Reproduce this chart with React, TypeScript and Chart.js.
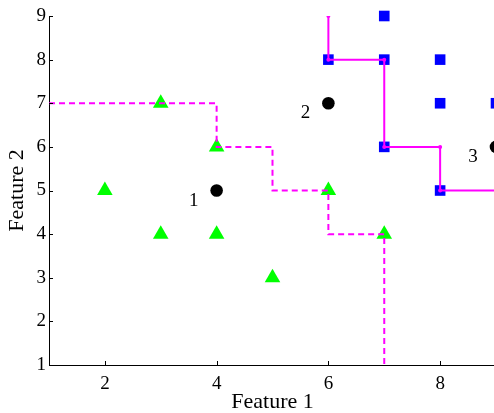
import { useEffect, useRef } from "react";
import { Chart, registerables } from "chart.js";

Chart.register(...registerables);

// Class A (green triangles)
const classAX = [2, 3, 3, 4, 4, 5, 6, 7];
const classAY = [5, 7, 4, 6, 4, 3, 5, 4];
// Class B (blue squares)
const classBX = [6, 7, 7, 7, 8, 8, 8, 9];
const classBY = [8, 9, 8, 6, 8, 7, 5, 7];
// Query points (black circles)
const queryX = [4, 6, 9];
const queryY = [5, 7, 6];
const queryLabels = ["1", "2", "3"];
// Dashed boundary
const dashedX = [1, 4, 4, 5, 5, 6, 6, 7, 7];
const dashedY = [7, 7, 6, 6, 5, 5, 4, 4, 1];
// Solid boundary
const solidX = [6, 6, 7, 7, 8, 8, 9];
const solidY = [9, 8, 8, 6, 6, 5, 5];

const xTicks = [2, 4, 6, 8];
const yTicks = [1, 2, 3, 4, 5, 6, 7, 8, 9];
const xTitle = "Feature 1";
const yTitle = "Feature 2";

const SERIF = "'Liberation Serif', 'Times New Roman', serif";

const zip = (xs: number[], ys: number[]) => xs.map((x, i) => ({ x, y: ys[i] }));

const inwardTicks = {
  id: "inwardTicks",
  afterDraw(chart: any) {
    const { ctx, chartArea, scales } = chart;
    ctx.save();
    ctx.strokeStyle = "#000";
    ctx.lineWidth = 1;
    const len = 4;
    scales.x.ticks.forEach((t: any) => {
      const px = Math.round(scales.x.getPixelForValue(t.value)) + 0.5;
      ctx.beginPath();
      ctx.moveTo(px, chartArea.bottom);
      ctx.lineTo(px, chartArea.bottom - len);
      ctx.stroke();
    });
    scales.y.ticks.forEach((t: any) => {
      const py = Math.round(scales.y.getPixelForValue(t.value)) + 0.5;
      ctx.beginPath();
      ctx.moveTo(chartArea.left, py);
      ctx.lineTo(chartArea.left + len, py);
      ctx.stroke();
    });
    ctx.restore();
  },
};

const queryLabelPlugin = {
  id: "queryLabels",
  afterDatasetsDraw(chart: any) {
    const { ctx } = chart;
    const idx = chart.data.datasets.findIndex((d: any) => d.label === "query");
    if (idx < 0) return;
    const meta = chart.getDatasetMeta(idx);
    ctx.save();
    ctx.fillStyle = "#000";
    ctx.font = `19px ${SERIF}`;
    ctx.textAlign = "center";
    ctx.textBaseline = "alphabetic";
    meta.data.forEach((el: any, i: number) => {
      ctx.fillText(queryLabels[i], el.x - 23, el.y + 15);
    });
    ctx.restore();
  },
};

export default function App() {
  const ref = useRef<HTMLCanvasElement>(null);

  useEffect(() => {
    if (!ref.current) return;
    const chart = new Chart(ref.current, {
      type: "scatter",
      data: {
        datasets: [
          {
            label: "solid",
            data: zip(solidX, solidY),
            showLine: true,
            borderColor: "#ff00ff",
            backgroundColor: "#ff00ff",
            borderWidth: 2,
            pointRadius: 2,
            pointBorderWidth: 0,
            tension: 0,
          },
          {
            label: "dashed",
            data: zip(dashedX, dashedY),
            showLine: true,
            borderColor: "#ff00ff",
            borderWidth: 2,
            borderDash: [6, 4],
            pointRadius: 0,
            tension: 0,
          },
          {
            label: "query",
            data: zip(queryX, queryY),
            pointStyle: "circle",
            pointRadius: 6.3,
            backgroundColor: "#000",
            borderColor: "#000",
            borderWidth: 0,
            clip: false,
          },
          {
            label: "classB",
            data: zip(classBX, classBY),
            pointStyle: "rect",
            pointRadius: 7.5,
            backgroundColor: "#0000ff",
            borderColor: "#0000ff",
            borderWidth: 0,
            clip: false,
          },
          {
            label: "classA",
            data: zip(classAX, classAY),
            pointStyle: "triangle",
            pointRadius: 9,
            backgroundColor: "#00ff00",
            borderColor: "#00ff00",
            borderWidth: 0,
            clip: false,
          },
        ],
      },
      options: {
        animation: false,
        responsive: false,
        events: [],
        layout: { autoPadding: false, padding: { top: 16, right: 0, bottom: 0, left: 0 } },
        plugins: {
          legend: { display: false },
          tooltip: { enabled: false },
        },
        scales: {
          x: {
            type: "linear",
            min: 1,
            max: 9,
            grid: { display: false, drawTicks: false },
            border: { display: true, color: "#000", width: 1 },
            afterBuildTicks: (s: any) => {
              s.ticks = xTicks.map((v) => ({ value: v }));
            },
            afterFit: (s: any) => {
              s.height = 48;
              s.paddingLeft = 0;
              s.paddingRight = 0;
            },
            ticks: {
              color: "#000",
              padding: 8,
              font: { family: SERIF, size: 19 },
              maxRotation: 0,
            },
            title: {
              display: true,
              text: xTitle,
              color: "#000",
              font: { family: SERIF, size: 22, lineHeight: 1 },
              padding: { top: 0, bottom: 0 },
            },
          },
          y: {
            type: "linear",
            min: 1,
            max: 9,
            grid: { display: false, drawTicks: false },
            border: { display: true, color: "#000", width: 1 },
            afterBuildTicks: (s: any) => {
              s.ticks = yTicks.map((v) => ({ value: v }));
            },
            afterFit: (s: any) => {
              s.width = 49;
              s.paddingTop = 0;
              s.paddingBottom = 0;
            },
            ticks: {
              color: "#000",
              padding: 3,
              font: { family: SERIF, size: 19 },
            },
            title: {
              display: true,
              text: yTitle,
              color: "#000",
              font: { family: SERIF, size: 22, lineHeight: 1 },
              padding: { top: 6, bottom: 0 },
            },
          },
        },
      },
      plugins: [inwardTicks, queryLabelPlugin],
    });
    return () => chart.destroy();
  }, []);

  return (
    <div
      style={{
        position: "fixed",
        left: 0,
        top: 0,
        width: 494,
        height: 413,
        overflow: "hidden",
        background: "#fff",
      }}
    >
      <canvas ref={ref} width={496} height={413} style={{ display: "block" }} />
    </div>
  );
}
